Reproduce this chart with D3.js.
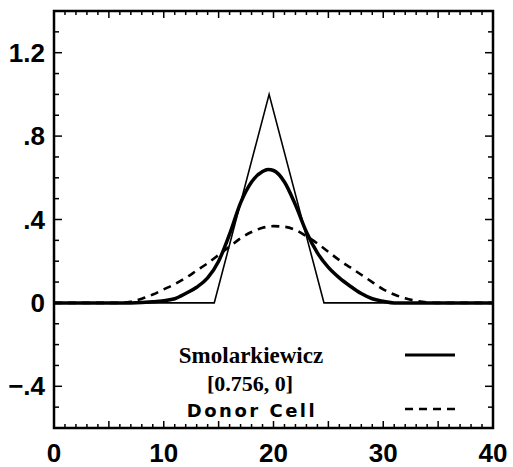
<!DOCTYPE html>
<html lang="en">
  <head>
    <meta charset="UTF-8" />
    <title>Smolarkiewicz vs Donor Cell</title>
    <script src="https://d3js.org/d3.v7.min.js"></script>
    <style>
      body { margin: 0; background: #fff; }
      .tick-label { font-family: "Liberation Sans", Arial, sans-serif; font-weight: bold; font-size: 26px; }
    </style>
  </head>
  <body>
    <script>
      // exact (triangle) profile
      var exactX = [0, 14.6, 19.6, 24.6, 40];
      var exactY = [0, 0, 1.0, 0, 0];

      // Smolarkiewicz scheme
      var smolX = [0, 7, 9, 11, 12, 13, 14, 15, 16, 17, 18, 19, 19.5, 20, 21, 22, 23, 24, 25, 26, 27, 28, 29, 30, 31, 40];
      var smolY = [0, 0, 0.005, 0.02, 0.045, 0.075, 0.12, 0.2, 0.33, 0.48, 0.58, 0.63, 0.64, 0.635, 0.58, 0.47, 0.34, 0.24, 0.17, 0.12, 0.08, 0.045, 0.02, 0.008, 0, 0];

      // donor cell scheme
      var donorX = [0, 6, 7, 8, 9, 10, 11, 12, 13, 14, 15, 16, 17, 18, 19, 20, 21, 22, 23, 24, 25, 26, 27, 28, 29, 30, 31, 32, 33, 34, 35, 40];
      var donorY = [0, 0, 0.005, 0.02, 0.04, 0.065, 0.09, 0.12, 0.155, 0.19, 0.23, 0.27, 0.31, 0.34, 0.36, 0.368, 0.365, 0.35, 0.32, 0.285, 0.245, 0.205, 0.17, 0.135, 0.1, 0.065, 0.04, 0.022, 0.01, 0.003, 0, 0];

      var xTickLabels = [0, 10, 20, 30, 40];
      var yTickLabels = [1.2, 0.8, 0.4, 0, -0.4];

      var width = 513, height = 467;
      var margin = { top: 11, right: 20, bottom: 39, left: 54 };

      var svg = d3.select("body").append("svg")
        .attr("width", width)
        .attr("height", height);

      var x = d3.scaleLinear().domain([0, 40]).range([margin.left, width - margin.right]);
      var y = d3.scaleLinear().domain([-0.6, 1.4]).range([height - margin.bottom, margin.top]);

      function zip(xs, ys) {
        return xs.map(function (v, i) { return [v, ys[i]]; });
      }
      var line = d3.line().x(function (d) { return x(d[0]); }).y(function (d) { return y(d[1]); });
      var smooth = d3.line().curve(d3.curveMonotoneX).x(function (d) { return x(d[0]); }).y(function (d) { return y(d[1]); });

      // minor ticks, all four sides, pointing inward
      var xMinor = d3.range(0, 41, 1);
      var yMinor = d3.range(-6, 15).map(function (k) { return k / 10; });

      var ticks = svg.append("g").attr("stroke", "#000").attr("stroke-width", 1.5);
      xMinor.forEach(function (v) {
        var len = v % 5 === 0 ? 7 : 4;
        ticks.append("line").attr("x1", x(v)).attr("x2", x(v)).attr("y1", y(-0.6)).attr("y2", y(-0.6) - len);
        ticks.append("line").attr("x1", x(v)).attr("x2", x(v)).attr("y1", y(1.4)).attr("y2", y(1.4) + len);
      });
      yMinor.forEach(function (v) {
        var len = Math.round(v * 10) % 4 === 0 ? 8 : 5;
        ticks.append("line").attr("x1", x(0)).attr("x2", x(0) + len).attr("y1", y(v)).attr("y2", y(v));
        ticks.append("line").attr("x1", x(40)).attr("x2", x(40) - len).attr("y1", y(v)).attr("y2", y(v));
      });

      // frame
      svg.append("rect")
        .attr("x", x(0)).attr("y", y(1.4))
        .attr("width", x(40) - x(0)).attr("height", y(-0.6) - y(1.4))
        .attr("fill", "none").attr("stroke", "#000").attr("stroke-width", 2.5);

      // tick labels
      svg.selectAll(".xl").data(xTickLabels).enter().append("text")
        .attr("class", "tick-label")
        .attr("x", function (d) { return x(d); })
        .attr("y", height - 5)
        .attr("text-anchor", "middle")
        .text(function (d) { return d; });

      svg.selectAll(".yl").data(yTickLabels).enter().append("text")
        .attr("class", "tick-label")
        .attr("x", margin.left - 9)
        .attr("y", function (d) { return y(d) + 9; })
        .attr("text-anchor", "end")
        .text(function (d) { return d === 0 ? "0" : d3.format(".1f")(d).replace("0.", "."); });

      // curves
      svg.append("path").datum(zip(exactX, exactY))
        .attr("d", line).attr("fill", "none").attr("stroke", "#000").attr("stroke-width", 1.6);

      svg.append("path").datum(zip(donorX, donorY))
        .attr("d", smooth).attr("fill", "none").attr("stroke", "#000").attr("stroke-width", 2.6)
        .attr("stroke-dasharray", "8,6");

      svg.append("path").datum(zip(smolX, smolY))
        .attr("d", smooth).attr("fill", "none").attr("stroke", "#000").attr("stroke-width", 3.5);

      // legend
      svg.append("text")
        .attr("x", 251).attr("y", 363)
        .attr("text-anchor", "middle")
        .style("font-family", "'Liberation Serif', serif").style("font-weight", "bold").style("font-size", "23px")
        .text("Smolarkiewicz");
      svg.append("text")
        .attr("x", 250).attr("y", 391)
        .attr("text-anchor", "middle")
        .style("font-family", "'Liberation Serif', serif").style("font-weight", "bold").style("font-size", "22px")
        .text("[0.756, 0]");
      svg.append("text")
        .attr("x", 252).attr("y", 417)
        .attr("text-anchor", "middle")
        .style("font-family", "'DejaVu Sans', sans-serif").style("font-weight", "bold").style("font-size", "18px")
        .style("letter-spacing", "2.5px")
        .text("Donor Cell");

      svg.append("line").attr("x1", 405).attr("x2", 455).attr("y1", 355).attr("y2", 355)
        .attr("stroke", "#000").attr("stroke-width", 3);
      svg.append("line").attr("x1", 405).attr("x2", 458).attr("y1", 409).attr("y2", 409)
        .attr("stroke", "#000").attr("stroke-width", 2.5).attr("stroke-dasharray", "8,6");
    </script>
  </body>
</html>
